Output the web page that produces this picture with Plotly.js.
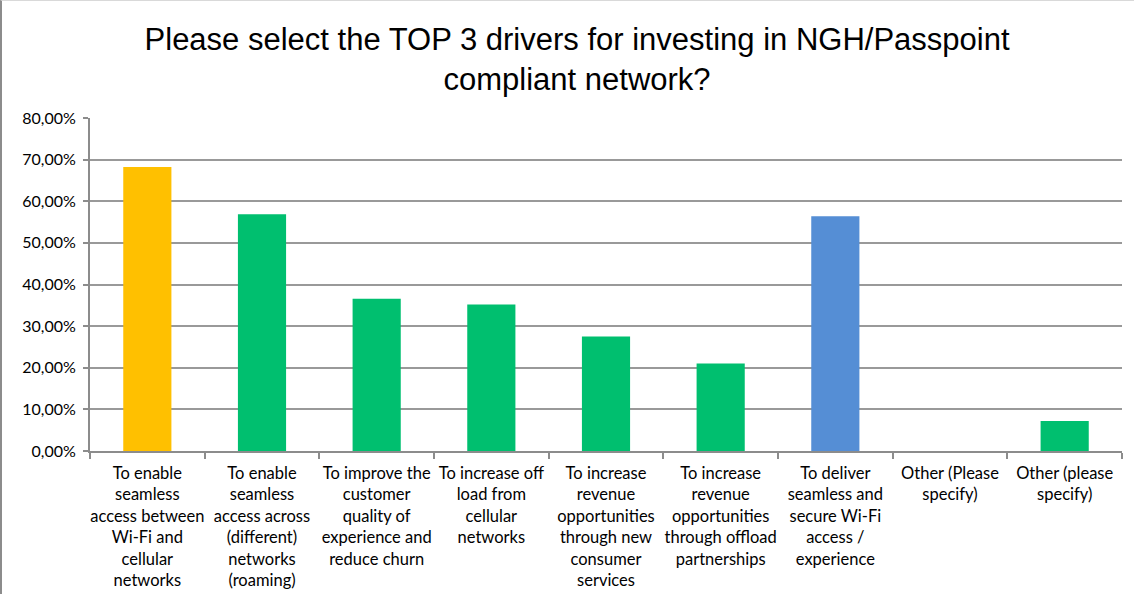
<!DOCTYPE html>
<html>
<head>
<meta charset="utf-8">
<script src="https://cdn.plot.ly/plotly-3.0.1.min.js"></script>
<style>
html,body{margin:0;padding:0;background:#fff;}
#chart{width:1134px;height:594px;box-sizing:border-box;border-left:2px solid #8c8c8c;border-top:1px solid #d9d9d9;}
</style>
</head>
<body>
<div id="chart"></div>
<script>
const categories = [
  "To enable<br>seamless<br>access between<br>Wi-Fi and<br>cellular<br>networks",
  "To enable<br>seamless<br>access across<br>(different)<br>networks<br>(roaming)",
  "To improve the<br>customer<br>quality of<br>experience and<br>reduce churn",
  "To increase off<br>load from<br>cellular<br>networks",
  "To increase<br>revenue<br>opportunities<br>through new<br>consumer<br>services",
  "To increase<br>revenue<br>opportunities<br>through offload<br>partnerships",
  "To deliver<br>seamless and<br>secure Wi-Fi<br>access /<br>experience",
  "Other (Please<br>specify)",
  "Other (please<br>specify)"
];
const values = [68.2, 56.9, 36.6, 35.2, 27.5, 21.0, 56.4, 0, 7.2];
const barColors = ["#FFC000", "#00BF6F", "#00BF6F", "#00BF6F", "#00BF6F", "#00BF6F", "#558ED5", "#00BF6F", "#00BF6F"];
const yTickVals = [0, 10, 20, 30, 40, 50, 60, 70, 80];
const yTickText = ["0,00%", "10,00%", "20,00%", "30,00%", "40,00%", "50,00%", "60,00%", "70,00%", "80,00%"];
const titleText = "Please select the TOP 3 drivers for investing in NGH/Passpoint<br>compliant network?";

Plotly.newPlot("chart", [{
  type: "bar",
  x: categories,
  y: values,
  marker: {color: barColors},
  hoverinfo: "skip"
}], {
  width: 1132, height: 593,
  margin: {l: 88, r: 12, t: 117, b: 143},
  paper_bgcolor: "#fff",
  plot_bgcolor: "#fff",
  bargap: 0.58,
  showlegend: false,
  title: {
    text: titleText,
    font: {family: "Liberation Sans, Arial, sans-serif", size: 31, color: "#000"},
    x: 0.508, xanchor: "center",
    yref: "container",
    y: 0.918, yanchor: "middle"
  },
  xaxis: {
    type: "category",
    tickson: "boundaries",
    ticks: "outside",
    ticklen: 6,
    tickwidth: 2,
    tickcolor: "#8c8c8c",
    showline: true,
    linecolor: "#8c8c8c",
    linewidth: 2,
    showgrid: false,
    tickangle: 0,
    ticklabelstandoff: 6,
    tickfont: {family: "Lato, Carlito, sans-serif", size: 16.5, color: "#000"},
    fixedrange: true
  },
  yaxis: {
    range: [0, 80],
    tickvals: yTickVals,
    ticktext: yTickText,
    ticks: "outside",
    ticklen: 5,
    tickwidth: 2,
    tickcolor: "#8c8c8c",
    showline: true,
    linecolor: "#8c8c8c",
    linewidth: 2,
    showgrid: true,
    gridcolor: "#999999",
    gridwidth: 2,
    zeroline: false,
    ticklabelstandoff: 4,
    tickfont: {family: "Lato, Carlito, sans-serif", size: 16, color: "#000"},
    fixedrange: true
  }
}, {displayModeBar: false, staticPlot: true});
</script>
</body>
</html>
